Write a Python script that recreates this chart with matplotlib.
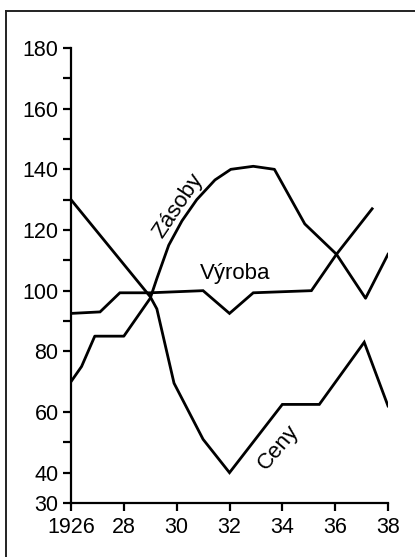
import matplotlib.pyplot as plt
from matplotlib.lines import Line2D
from matplotlib.ticker import FixedLocator

plt.rcParams['font.family'] = ['Liberation Sans', 'DejaVu Sans']

# data (index, years)
ceny_x = [1926, 1929, 1929.25, 1929.9, 1931, 1932, 1934, 1935.4, 1937.1, 1938]
ceny_y = [130, 98, 94, 69.5, 51, 40, 62.5, 62.5, 83, 62]

zasoby_x = [1926, 1926.4, 1926.9, 1928, 1929, 1929.25, 1929.7, 1930.2, 1930.76,
            1931.45, 1932.05, 1932.9, 1933.7, 1934.85, 1936.05, 1937.15, 1938]
zasoby_y = [70, 75, 85, 85, 97.5, 104, 115, 123, 130,
            136.5, 140, 141, 140, 122, 112, 97.5, 112]

vyroba_x = [1926, 1927.1, 1927.85, 1929, 1931, 1932, 1932.9, 1935.1, 1936.05, 1937.4]
vyroba_y = [92.5, 93, 99.3, 99.3, 100, 92.5, 99.3, 100, 112, 127]

xticks = [1926, 1928, 1930, 1932, 1934, 1936, 1938]
xlabels = ['1926', '28', '30', '32', '34', '36', '38']
yticks = [30, 40, 60, 80, 100, 120, 140, 160, 180]
yminor = [50, 90, 110, 130, 150, 170]

fig = plt.figure(figsize=(4.15, 5.57), dpi=100)
ax = fig.add_axes([71/415, 1 - 503/557, (388 - 71)/415, (503 - 48)/557])

lw = 2.0
ax.plot(ceny_x, ceny_y, color='black', lw=lw, solid_joinstyle='miter')
ax.plot(zasoby_x, zasoby_y, color='black', lw=lw)
ax.plot(vyroba_x, vyroba_y, color='black', lw=lw, solid_joinstyle='miter')

ax.set_xlim(1926, 1938)
ax.set_ylim(30, 180)
ax.set_xticks(xticks)
ax.set_xticklabels(xlabels)
ax.set_yticks(yticks)
ax.yaxis.set_minor_locator(FixedLocator(yminor))

for s in ['top', 'right']:
    ax.spines[s].set_visible(False)
for s in ['left', 'bottom']:
    ax.spines[s].set_linewidth(1.6)
ax.tick_params(axis='both', which='both', direction='out', length=6, width=1.6,
               labelsize=15.5, pad=3, colors='black')
ax.tick_params(axis='x', pad=4)

# curve labels
ax.text(1930.05, 128, 'Zásoby', rotation=56, ha='center', va='center', fontsize=16)
ax.text(1932.2, 105.5, 'Výroba', ha='center', va='center', fontsize=16)
ax.text(1933.85, 48.5, 'Ceny', rotation=50, ha='center', va='center', fontsize=16)

# outer frame of the scanned figure
fig.add_artist(Line2D([6/415, 6/415], [0, 1 - 11/557], color='#222222', lw=1.4))
fig.add_artist(Line2D([6/415, 1], [1 - 11/557, 1 - 11/557], color='#222222', lw=1.4))

fig.savefig('out.png', dpi=100)
